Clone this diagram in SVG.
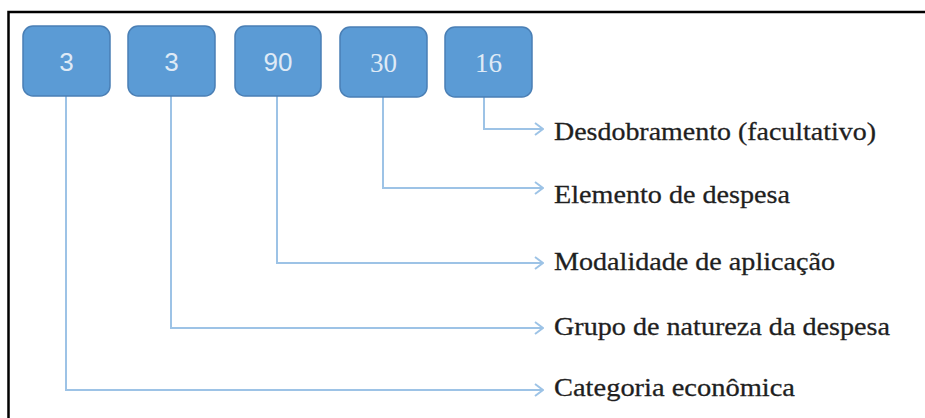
<svg xmlns="http://www.w3.org/2000/svg" width="925" height="418" viewBox="0 0 925 418">
<style>
.box{fill:#5b9bd5;stroke:#4a7fb5;stroke-width:1.5}
.num{font-family:"Liberation Sans",Arial,sans-serif;font-size:26px;fill:#dfeaf6;text-anchor:middle}
.nums{font-family:"Liberation Serif","Times New Roman",serif;font-size:27px;fill:#dfeaf6;text-anchor:middle}
.lbl{font-family:"Liberation Serif","Times New Roman",serif;font-size:26px;fill:#1f1f1f;stroke:#1f1f1f;stroke-width:0.3}
.con{fill:none;stroke:#9dc3e6;stroke-width:2}
</style>
<defs>
<marker id="arr" viewBox="0 0 10 14" refX="9" refY="7" markerWidth="10" markerHeight="14" markerUnits="userSpaceOnUse" orient="auto">
<path d="M1,1 L9,7 L1,13" fill="none" stroke="#9dc3e6" stroke-width="2"/>
</marker>
</defs>
<rect width="925" height="418" fill="#ffffff"/>
<rect x="8.5" y="12" width="940" height="440" fill="none" stroke="#000000" stroke-width="2.5"/>
<g id="connectors">
<path class="con" d="M484,97 V129 H543" marker-end="url(#arr)"/>
<path class="con" d="M383,97 V188 H543" marker-end="url(#arr)"/>
<path class="con" d="M277,96 V263 H543" marker-end="url(#arr)"/>
<path class="con" d="M171,96 V328 H543" marker-end="url(#arr)"/>
<path class="con" d="M66,96 V390 H543" marker-end="url(#arr)"/>
</g>
<g id="node-3a"><rect class="box" x="23" y="26" width="87" height="70" rx="10"/><text class="num" x="66.5" y="71">3</text></g>
<g id="node-3b"><rect class="box" x="128" y="26" width="87" height="70" rx="10"/><text class="num" x="171.5" y="71">3</text></g>
<g id="node-90"><rect class="box" x="235" y="26" width="86" height="70" rx="10"/><text class="num" x="278" y="71">90</text></g>
<g id="node-30"><rect class="box" x="340" y="27" width="87" height="70" rx="10"/><text class="nums" x="383.5" y="72">30</text></g>
<g id="node-16"><rect class="box" x="445" y="27" width="87" height="70" rx="10"/><text class="nums" x="488.5" y="72">16</text></g>
<g id="label-desdobramento"><text class="lbl" x="554" y="140" textLength="322" lengthAdjust="spacingAndGlyphs">Desdobramento (facultativo)</text></g>
<g id="label-elemento"><text class="lbl" x="554" y="203" textLength="236" lengthAdjust="spacingAndGlyphs">Elemento de despesa</text></g>
<g id="label-modalidade"><text class="lbl" x="554" y="270" textLength="281" lengthAdjust="spacingAndGlyphs">Modalidade de aplicação</text></g>
<g id="label-grupo"><text class="lbl" x="554" y="335" textLength="336" lengthAdjust="spacingAndGlyphs">Grupo de natureza da despesa</text></g>
<g id="label-categoria"><text class="lbl" x="554" y="396" textLength="241" lengthAdjust="spacingAndGlyphs">Categoria econômica</text></g>
</svg>
